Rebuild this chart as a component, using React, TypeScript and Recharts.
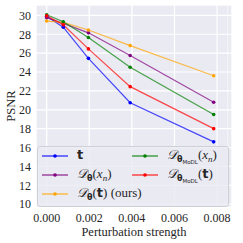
import React from "react"
import { LineChart, Line, XAxis, YAxis, CartesianGrid, Legend } from "recharts"

// perturbation strengths (eps / 255 style)
const strengths = [0, 0.00078, 0.00196, 0.00392, 0.00784]

const psnrT = [29.9, 28.75, 25.45, 20.75, 16.6]
const psnrDx = [29.75, 29.15, 28.15, 25.75, 20.8]
const psnrDt = [29.4, 29.25, 28.45, 26.8, 23.6]
const psnrModlX = [30.07, 29.33, 27.65, 24.5, 19.5]
const psnrModlT = [29.95, 29.0, 26.45, 22.45, 18.0]

const xTicks = [0, 0.002, 0.004, 0.006, 0.008]
const yTicks = [10, 12, 14, 16, 18, 20, 22, 24, 26, 28, 30]

// minor grid positions (seaborn darkgrid w/ minor ticks)
const xMinor: number[] = []
for (let i = -1; i <= 17; i++) xMinor.push(i * 0.0005)
const yMinor: number[] = []
for (let i = 20; i <= 62; i++) yMinor.push(i * 0.5)

const xDomain = [-0.0005, 0.0087]
const yDomain = [9.7, 31.1]

const data = strengths.map((s, i) => ({
  s,
  t: psnrT[i],
  dx: psnrDx[i],
  dt: psnrDt[i],
  mx: psnrModlX[i],
  mt: psnrModlT[i],
}))

const serif = '"Liberation Serif", "Times New Roman", serif'
const sans = '"DejaVu Sans", sans-serif'
const ink = "#262626"

const Dcal = () => <span style={{ fontFamily: '"DejaVu Serif", serif', fontStyle: "italic" }}>𝒟</span>

const Theta = ({ modl }: { modl?: boolean }) => (
  <span style={{ fontFamily: sans, fontWeight: "bold", fontSize: 8, position: "relative", top: 3 }}>
    θ
    {modl && <span style={{ fontSize: 5.5, fontWeight: "normal", position: "relative", top: 1.5 }}>MoDL</span>}
  </span>
)

const Xn = () => (
  <span style={{ fontFamily: serif }}>
    (<i>x</i>
    <i style={{ fontSize: 9, position: "relative", top: 3 }}>n</i>)
  </span>
)

const BoldT = () => <b style={{ fontFamily: sans }}>t</b>

const series = [
  { key: "t", color: "#0000ff", label: <BoldT /> },
  { key: "dx", color: "#800080", label: <><Dcal /><Theta /><Xn /></> },
  { key: "dt", color: "#ffa500", label: <><Dcal /><Theta />(<BoldT />) <span style={{ fontFamily: serif }}>(ours)</span></> },
  { key: "mx", color: "#008000", label: <><Dcal /><Theta modl /><Xn /></> },
  { key: "mt", color: "#ff0000", label: <><Dcal /><Theta modl />(<BoldT />)</> },
]

const LegendBox = () => (
  <div
    style={{
      position: "absolute",
      left: 0,
      top: 0,
      width: 190,
      height: 59,
      border: "1px solid #cfcfd6",
      borderRadius: 3,
      background: "rgba(234,234,242,0.8)",
      fontFamily: serif,
      fontSize: 13,
      color: ink,
    }}
  >
    {series.map((s, i) => {
      const col = i < 3 ? 0 : 1
      const row = i < 3 ? i : i - 3
      const left = col === 0 ? 4 : 94
      const top = 9 + row * 19
      return (
        <div key={s.key} style={{ position: "absolute", left, top: top - 9, height: 18, whiteSpace: "nowrap" }}>
          <svg width={26} height={18} style={{ position: "absolute", left: 0, top: 0 }}>
            <line x1={0} y1={9} x2={26} y2={9} stroke={s.color} strokeOpacity={0.7} strokeWidth={1.5} />
            <circle cx={13} cy={9} r={1.8} fill={s.color} />
          </svg>
          <span style={{ position: "absolute", left: 35, top: 0, lineHeight: "16px" }}>{s.label}</span>
        </div>
      )
    })}
  </div>
)

export default function App() {
  return (
    <div style={{ position: "fixed", left: 0, top: 0, width: 243, height: 243, background: "#fff" }}>
      <LineChart width={243} height={243} data={data} margin={{ top: 5, right: 11, bottom: 0, left: 0 }}>
        <CartesianGrid fill="#eaeaf2" stroke="#ffffff" strokeWidth={0.5} xAxisId="minor" yAxisId="minor" />
        <CartesianGrid stroke="#ffffff" strokeWidth={1.2} />
        <XAxis xAxisId="minor" dataKey="s" type="number" domain={xDomain} ticks={xMinor} hide />
        <YAxis yAxisId="minor" type="number" domain={yDomain} ticks={yMinor} interval={0} hide />
        <XAxis
          dataKey="s"
          type="number"
          domain={xDomain}
          ticks={xTicks}
          tickFormatter={(v: number) => v.toFixed(3)}
          axisLine={false}
          tickLine={false}
          tickSize={6}
          tickMargin={0}
          height={36}
          tick={{ fontFamily: serif, fontSize: 12, fill: ink }}
          label={{ value: "Perturbation strength", position: "insideBottom", offset: 7, style: { fontFamily: serif, fontSize: 12.5, fill: ink } }}
        />
        <YAxis
          type="number"
          domain={yDomain}
          ticks={yTicks}
          axisLine={false}
          tickLine={false}
          tickSize={5}
          tickMargin={0}
          width={36}
          interval={0}
          tick={{ fontFamily: serif, fontSize: 12, fill: ink }}
          label={{ value: "PSNR", angle: -90, position: "insideLeft", offset: 11, style: { textAnchor: "middle", fontFamily: serif, fontSize: 12.5, fill: ink } }}
        />
        {series.map((s) => (
          <Line
            key={s.key}
            dataKey={s.key}
            stroke={s.color}
            strokeOpacity={0.7}
            strokeWidth={1.2}
            isAnimationActive={false}
            dot={(p: any) => <circle key={p.index} cx={p.cx} cy={p.cy} r={1.8} fill={s.color} />}
            activeDot={false}
          />
        ))}
        <Legend
          layout="horizontal"
          verticalAlign="middle"
          align="center"
          wrapperStyle={{ left: 37, top: 146, width: 192, height: 61 }}
          content={() => <LegendBox />}
        />
      </LineChart>
    </div>
  )
}
